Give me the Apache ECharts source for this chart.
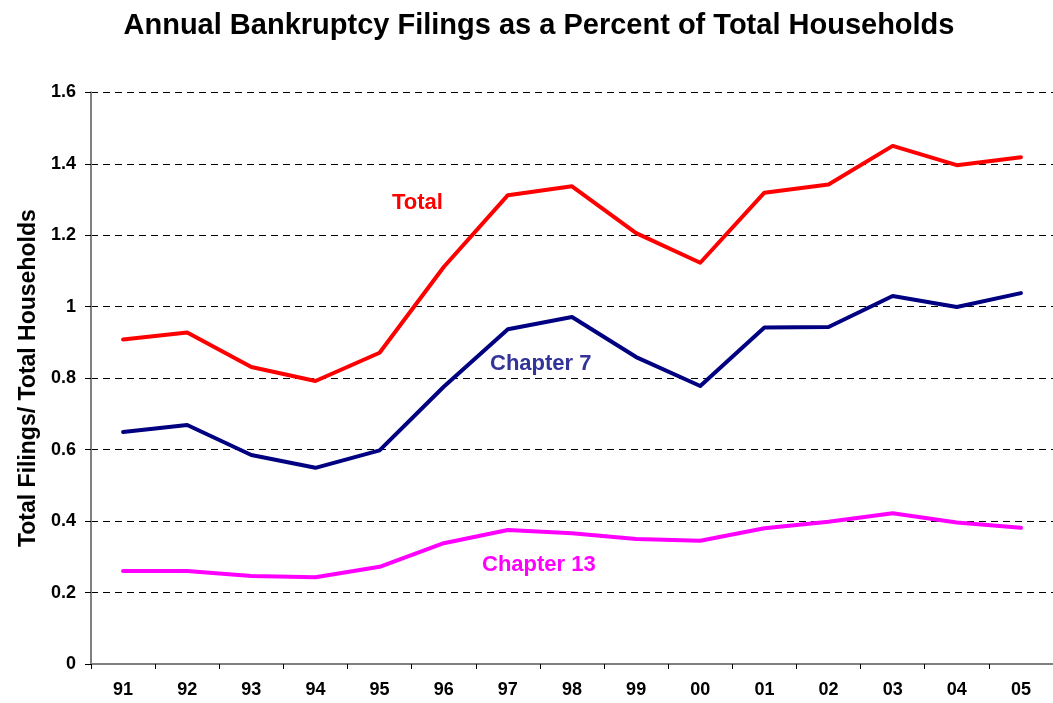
<!DOCTYPE html>
<html>
<head>
<meta charset="utf-8">
<script src="https://cdn.jsdelivr.net/npm/echarts@6/dist/echarts.min.js"></script>
<style>
html,body{margin:0;padding:0;background:#fff;}
#chart{width:1053px;height:703px;}
</style>
</head>
<body>
<div id="chart"></div>
<script>
const years = ['91','92','93','94','95','96','97','98','99','00','01','02','03','04','05'];
const total = [0.908,0.928,0.831,0.792,0.871,1.111,1.312,1.337,1.206,1.123,1.319,1.342,1.450,1.396,1.418];
const chapter7 = [0.649,0.669,0.585,0.549,0.598,0.776,0.937,0.971,0.859,0.778,0.942,0.943,1.030,0.999,1.038];
const chapter13 = [0.260,0.260,0.246,0.243,0.272,0.338,0.375,0.366,0.350,0.345,0.380,0.398,0.422,0.396,0.381];
const yTicks = { min: 0, max: 1.6, interval: 0.2 };

const FONT = '"Liberation Sans", Arial, sans-serif';
const chart = echarts.init(document.getElementById('chart'), null, { renderer: 'canvas' });
const mkLine = (name, data, color) => ({
  name, type: 'line', data, symbol: 'none', smooth: false,
  lineStyle: { color, width: 4, cap: 'round', join: 'round' },
  itemStyle: { color }, z: 3
});
chart.setOption({
  animation: false,
  backgroundColor: '#ffffff',
  title: {
    text: 'Annual Bankruptcy Filings as a Percent of Total Households',
    left: 534, top: 6, textAlign: 'center',
    textStyle: { fontFamily: FONT, fontSize: 29, fontWeight: 'bold', color: '#000' }
  },
  grid: { left: 91, top: 92.3, bottom: 39, right: -11, containLabel: false },
  xAxis: {
    type: 'category', data: years, boundaryGap: true,
    axisLine: { lineStyle: { color: '#808080', width: 2 } },
    axisTick: { show: true, length: 5, inside: false, lineStyle: { color: '#000', width: 1 } },
    axisLabel: { fontFamily: FONT, fontSize: 18, fontWeight: 'bold', color: '#000', margin: 17 },
    splitLine: { show: false }
  },
  yAxis: {
    type: 'value', min: yTicks.min, max: yTicks.max, interval: yTicks.interval,
    name: 'Total Filings/ Total Households',
    nameLocation: 'middle', nameGap: 51, nameRotate: 90,
    nameTextStyle: { fontFamily: FONT, fontSize: 23, fontWeight: 'bold', color: '#000' },
    axisLine: { show: true, lineStyle: { color: '#808080', width: 2 } },
    axisTick: { show: true, length: 6, lineStyle: { color: '#000' } },
    axisLabel: { fontFamily: FONT, fontSize: 18, fontWeight: 'bold', color: '#000', margin: 15 },
    splitLine: { show: true, lineStyle: { color: '#000', type: [7, 5], width: 1 } }
  },
  series: [
    mkLine('Total', total, '#FF0000'),
    mkLine('Chapter 7', chapter7, '#000080'),
    mkLine('Chapter 13', chapter13, '#FF00FF')
  ],
  graphic: [
    { type: 'text', left: 392, top: 192, style: { text: 'Total', fill: '#FF0000', font: 'bold 22px ' + FONT } },
    { type: 'text', left: 490, top: 353, style: { text: 'Chapter 7', fill: '#333399', font: 'bold 22px ' + FONT } },
    { type: 'text', left: 482, top: 554, style: { text: 'Chapter 13', fill: '#FF00FF', font: 'bold 22px ' + FONT } }
  ]
});
</script>
</body>
</html>
